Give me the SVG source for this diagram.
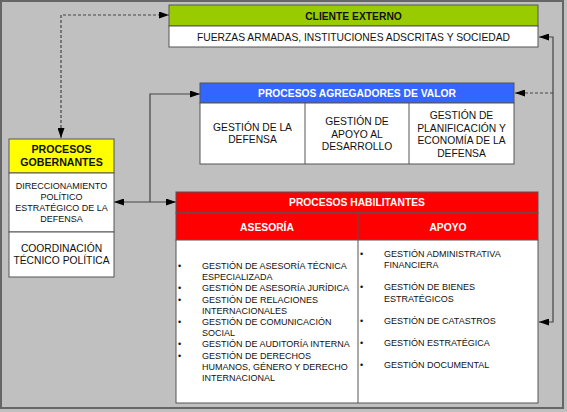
<svg xmlns="http://www.w3.org/2000/svg" width="567" height="412" viewBox="0 0 567 412">
<defs>
<style>
text{font-family:"Liberation Sans",Arial,sans-serif;fill:#111}
.h{font-weight:bold;font-size:10.3px;text-anchor:middle}
.t{font-size:10.3px;text-anchor:middle}
.s{font-size:9px;text-anchor:middle}
.l{font-size:9px}
.box{stroke:#555;stroke-width:1}
.conn{fill:none;stroke:#444;stroke-width:1.2}
.dash{stroke-dasharray:3,2}
</style>
<marker id="ah" viewBox="0 0 10 7" refX="10" refY="3.5" markerWidth="10" markerHeight="7" markerUnits="userSpaceOnUse" orient="auto-start-reverse">
<path d="M0,0 L10,3.5 L0,7 z" fill="#000"/>
</marker>
</defs>
<rect x="0" y="0" width="567" height="412" fill="#c0c0c0"/>
<rect x="1" y="1" width="562" height="407" fill="none" stroke="#666" stroke-width="2"/>

<g id="connectors">
<path class="conn dash" d="M61,138 V15 H169" marker-start="url(#ah)" marker-end="url(#ah)"/>
<path class="conn" d="M114,202 H176" marker-start="url(#ah)" marker-end="url(#ah)"/>
<path class="conn" d="M150,202 V94 H200" marker-end="url(#ah)"/>
<path class="conn" d="M539,37 H553 V322 H539" marker-start="url(#ah)" marker-end="url(#ah)"/>
<path class="conn dash" d="M553,93 H515" marker-end="url(#ah)"/>
</g>

<g id="cliente-externo">
<rect class="box" x="169" y="5" width="369" height="21" fill="#99cc00"/>
<rect class="box" x="169" y="26" width="369" height="21" fill="#fff"/>
<text class="h" x="353.5" y="19.5">CLIENTE EXTERNO</text>
<text class="t" x="353.5" y="40.5">FUERZAS ARMADAS, INSTITUCIONES ADSCRITAS Y SOCIEDAD</text>
</g>

<g id="procesos-agregadores">
<rect class="box" x="200" y="83" width="314" height="20" fill="#3366ff"/>
<rect class="box" x="200" y="103" width="314" height="61" fill="#fff"/>
<line class="box" x1="305" y1="103" x2="305" y2="164"/>
<line class="box" x1="409" y1="103" x2="409" y2="164"/>
<text class="h" x="357" y="97" fill="#fff" style="fill:#fff">PROCESOS AGREGADORES DE VALOR</text>
<text class="t" x="252.5" y="130.5">GESTIÓN DE LA</text>
<text class="t" x="252.5" y="143">DEFENSA</text>
<text class="t" x="357" y="125">GESTIÓN DE</text>
<text class="t" x="357" y="137.5">APOYO AL</text>
<text class="t" x="357" y="150">DESARROLLO</text>
<text class="t" x="461.5" y="119">GESTIÓN DE</text>
<text class="t" x="461.5" y="131.5">PLANIFICACIÓN Y</text>
<text class="t" x="461.5" y="144">ECONOMÍA DE LA</text>
<text class="t" x="461.5" y="156.5">DEFENSA</text>
</g>

<g id="procesos-gobernantes">
<rect class="box" x="9" y="139" width="105" height="34" fill="#ffff00"/>
<rect class="box" x="9" y="173" width="105" height="59" fill="#fff"/>
<rect class="box" x="9" y="232" width="105" height="45" fill="#fff"/>
<text class="h" x="61.5" y="152.5" style="font-size:10.6px">PROCESOS</text>
<text class="h" x="61.5" y="165.5" style="font-size:10.6px">GOBERNANTES</text>
<text class="s" x="61.5" y="188.5">DIRECCIONAMIENTO</text>
<text class="s" x="61.5" y="199.5">POLÍTICO</text>
<text class="s" x="61.5" y="210.5">ESTRATÉGICO DE LA</text>
<text class="s" x="61.5" y="221.5">DEFENSA</text>
<text class="t" x="61.5" y="252">COORDINACIÓN</text>
<text class="t" x="61.5" y="264">TÉCNICO POLÍTICA</text>
</g>

<g id="procesos-habilitantes">
<rect class="box" x="176" y="192" width="362" height="21" fill="#ff0000"/>
<rect class="box" x="176" y="213" width="362" height="27" fill="#ff0000"/>
<rect class="box" x="176" y="240" width="362" height="163" fill="#fff"/>
<line class="box" x1="358" y1="213" x2="358" y2="403"/>
<text class="h" x="357" y="206" style="fill:#fff">PROCESOS HABILITANTES</text>
<text class="h" x="267" y="231" style="fill:#fff">ASESORÍA</text>
<text class="h" x="448" y="231" style="fill:#fff">APOYO</text>
<g class="l">
<text class="l" x="178" y="269">•</text>
<text class="l" x="202" y="269">GESTIÓN DE ASESORÍA TÉCNICA</text>
<text class="l" x="202" y="280.2">ESPECIALIZADA</text>
<text class="l" x="178" y="291.4">•</text>
<text class="l" x="202" y="291.4">GESTIÓN DE ASESORÍA JURÍDICA</text>
<text class="l" x="178" y="302.6">•</text>
<text class="l" x="202" y="302.6">GESTIÓN DE RELACIONES</text>
<text class="l" x="202" y="313.8">INTERNACIONALES</text>
<text class="l" x="178" y="325">•</text>
<text class="l" x="202" y="325">GESTIÓN DE COMUNICACIÓN</text>
<text class="l" x="202" y="336.2">SOCIAL</text>
<text class="l" x="178" y="347.4">•</text>
<text class="l" x="202" y="347.4">GESTIÓN DE AUDITORÍA INTERNA</text>
<text class="l" x="178" y="358.6">•</text>
<text class="l" x="202" y="358.6">GESTIÓN DE DERECHOS</text>
<text class="l" x="202" y="369.8">HUMANOS, GÉNERO Y DERECHO</text>
<text class="l" x="202" y="381">INTERNACIONAL</text>
<text class="l" x="360" y="256.5">•</text>
<text class="l" x="384" y="256.5">GESTIÓN ADMINISTRATIVA</text>
<text class="l" x="384" y="268">FINANCIERA</text>
<text class="l" x="360" y="290">•</text>
<text class="l" x="384" y="290">GESTIÓN DE BIENES</text>
<text class="l" x="384" y="301.5">ESTRATÉGICOS</text>
<text class="l" x="360" y="324">•</text>
<text class="l" x="384" y="324">GESTIÓN DE CATASTROS</text>
<text class="l" x="360" y="346">•</text>
<text class="l" x="384" y="346">GESTIÓN ESTRATÉGICA</text>
<text class="l" x="360" y="368">•</text>
<text class="l" x="384" y="368">GESTIÓN DOCUMENTAL</text>
</g>
</g>
</svg>
